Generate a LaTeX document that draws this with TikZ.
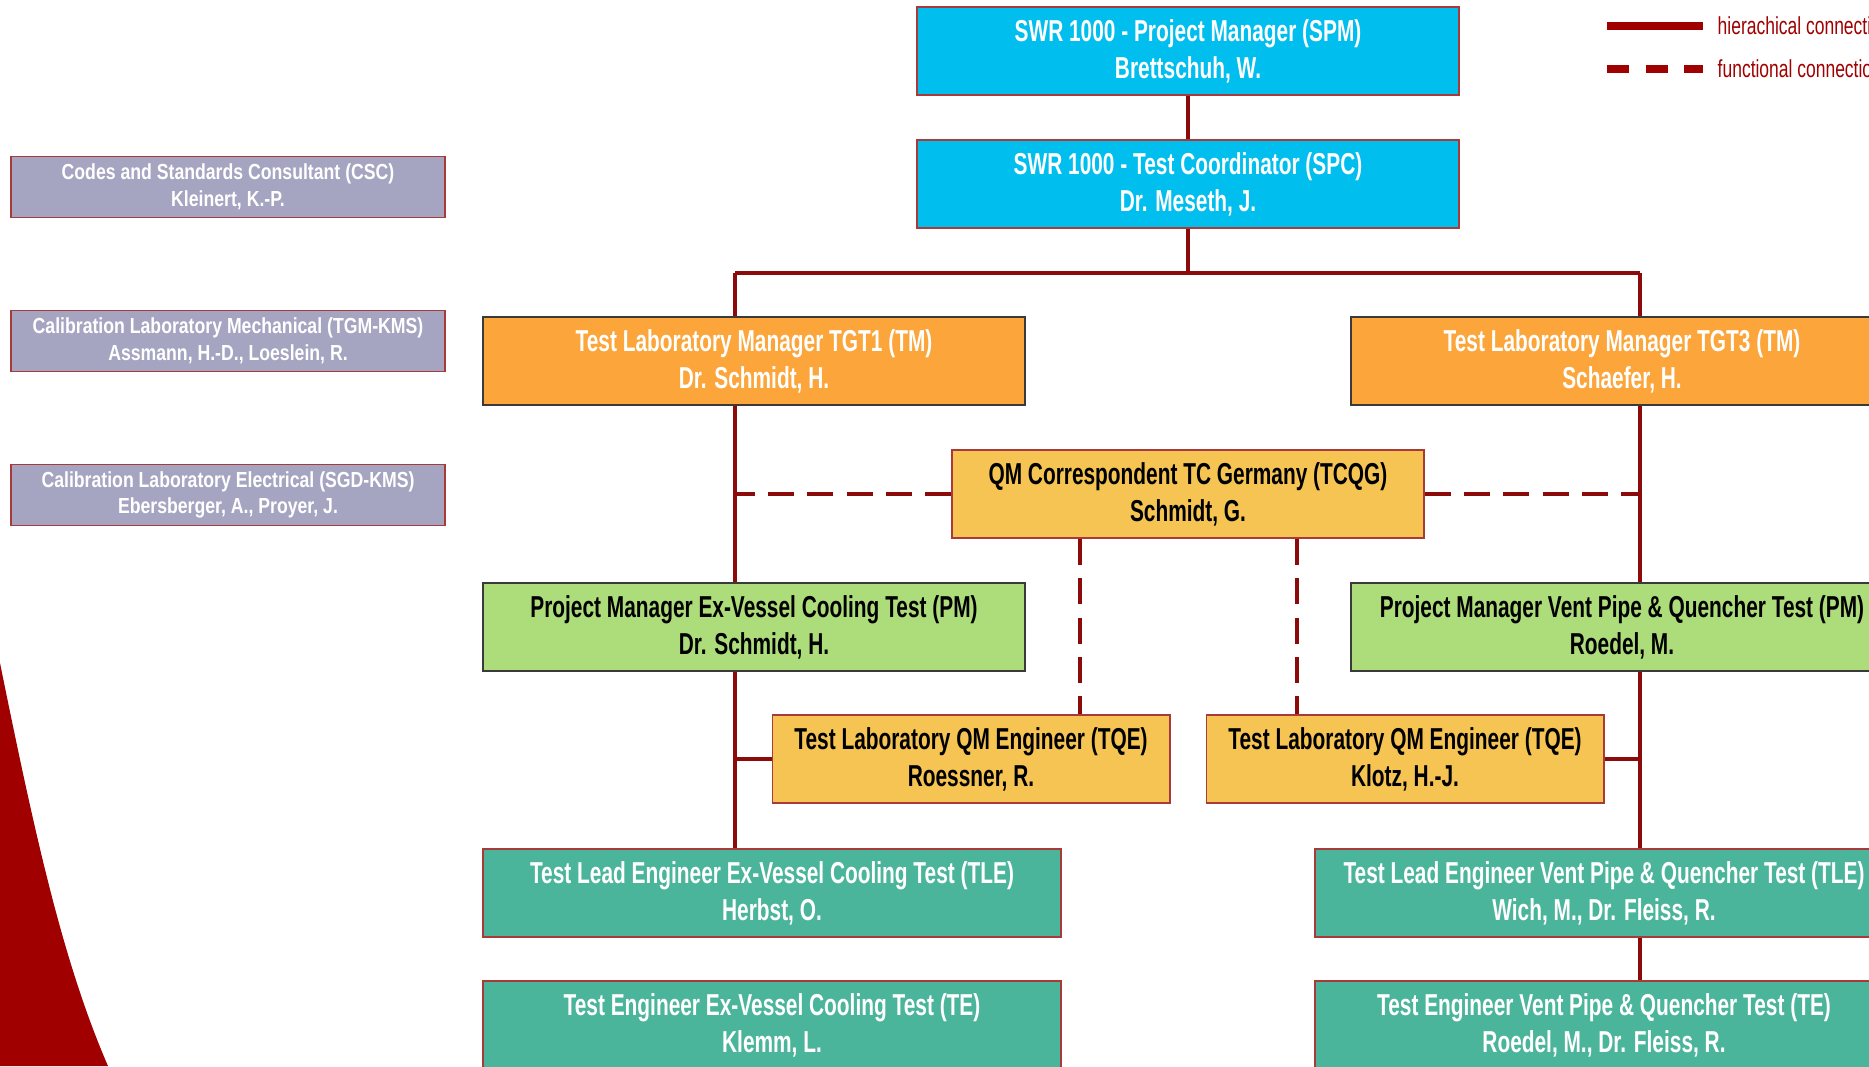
\documentclass[tikz,border=0pt]{standalone}
\usepackage{fontspec}
\setmainfont{Liberation Sans}
\newfontfamily\boxfnt[FakeStretch=0.69]{Liberation Sans}
\newfontfamily\sidefnt[FakeStretch=0.81]{Liberation Sans}
\newfontfamily\legfnt[FakeStretch=0.71]{Liberation Sans}
\usetikzlibrary{calc}
\definecolor{cyanbox}{HTML}{00BEEE}
\definecolor{orangebox}{HTML}{FBA53A}
\definecolor{yellowbox}{HTML}{F5C452}
\definecolor{greenbox}{HTML}{ADDC7A}
\definecolor{tealbox}{HTML}{4BB59B}
\definecolor{graybox}{HTML}{A5A5C2}
\definecolor{linered}{HTML}{8B0A0A}
\definecolor{legred}{HTML}{A00000}
\definecolor{borderred}{HTML}{A83A3A}
\definecolor{bordergray}{HTML}{3A3A3A}
\definecolor{swooshred}{HTML}{A00000}
\pgfdeclarelayer{bg}
\pgfdeclarelayer{paper}
\pgfsetlayers{paper,bg,main}
\begin{document}
\begin{tikzpicture}[x=0.01cm,y=-0.01cm,
  box/.style={draw=borderred, line width=0.5pt, inner sep=0pt, align=center,
    minimum height=0.88cm, text=white,
    font=\boxfnt\bfseries\fontsize{8.6}{10.5}\selectfont},
  darktext/.style={text=black},
  grayedge/.style={draw=bordergray},
  sidebox/.style={draw=borderred, line width=0.5pt, fill=graybox, inner sep=0pt,
    align=center, minimum width=4.33cm, minimum height=0.61cm, text=white,
    font=\sidefnt\bfseries\fontsize{6.2}{7.6}\selectfont},
  hier/.style={draw=linered, line width=0.9pt},
  func/.style={draw=linered, line width=1.1pt, dash pattern=on 7.4pt off 3.8pt},
  legtext/.style={text=legred, anchor=west, inner sep=0pt,
    font=\legfnt\fontsize{7}{8}\selectfont}
]
\useasboundingbox (0,0) rectangle (1869,1066);
\clip (0,0) rectangle (1869,1066);
\begin{pgfonlayer}{paper}
  \fill[white] (0,0) rectangle (1869,1066);
\end{pgfonlayer}

% decorative swoosh
\fill[swooshred] (0,663) .. controls (34,830) and (62,960) .. (108,1066) -- (0,1066) -- cycle;

% left consultant boxes
\node[sidebox] (csc) at (228,187) {Codes and Standards Consultant (CSC)\\Kleinert, K.-P.};
\node[sidebox] (tgm) at (228,341) {Calibration Laboratory Mechanical (TGM-KMS)\\Assmann, H.-D., Loeslein, R.};
\node[sidebox] (sgd) at (228,495) {Calibration Laboratory Electrical (SGD-KMS)\\Ebersberger, A., Proyer, J.};

% main boxes
\node[box, fill=cyanbox, minimum width=5.42cm] (spm) at (1188,51) {SWR 1000 - Project Manager (SPM)\\Brettschuh, W.};
\node[box, fill=cyanbox, minimum width=5.42cm] (spc) at (1188,184) {SWR 1000 - Test Coordinator (SPC)\\Dr. Meseth, J.};
\node[box, grayedge, fill=orangebox, minimum width=5.42cm] (tgt1) at (754,361) {Test Laboratory Manager TGT1 (TM)\\Dr. Schmidt, H.};
\node[box, grayedge, fill=orangebox, minimum width=5.42cm] (tgt3) at (1622,361) {Test Laboratory Manager TGT3 (TM)\\Schaefer, H.};
\node[box, darktext, fill=yellowbox, minimum width=4.71cm] (tcqg) at (1188,494) {QM Correspondent TC Germany (TCQG)\\Schmidt, G.};
\node[box, grayedge, darktext, fill=greenbox, minimum width=5.42cm] (pmL) at (754,627) {Project Manager Ex-Vessel Cooling Test (PM)\\Dr. Schmidt, H.};
\node[box, grayedge, darktext, fill=greenbox, minimum width=5.42cm] (pmR) at (1622,627) {Project Manager Vent Pipe \& Quencher Test (PM)\\Roedel, M.};
\node[box, darktext, fill=yellowbox, minimum width=3.97cm] (tqeL) at (971,759) {Test Laboratory QM Engineer (TQE)\\Roessner, R.};
\node[box, darktext, fill=yellowbox, minimum width=3.97cm] (tqeR) at (1405,759) {Test Laboratory QM Engineer (TQE)\\Klotz, H.-J.};
\node[box, fill=tealbox, minimum width=5.78cm] (tleL) at (772,893) {Test Lead Engineer Ex-Vessel Cooling Test (TLE)\\Herbst, O.};
\node[box, fill=tealbox, minimum width=5.78cm] (tleR) at (1604,893) {Test Lead Engineer Vent Pipe \& Quencher Test (TLE)\\Wich, M., Dr. Fleiss, R.};
\node[box, fill=tealbox, minimum width=5.78cm] (teL) at (772,1025) {Test Engineer Ex-Vessel Cooling Test (TE)\\Klemm, L.};
\node[box, fill=tealbox, minimum width=5.78cm] (teR) at (1604,1025) {Test Engineer Vent Pipe \& Quencher Test (TE)\\Roedel, M., Dr. Fleiss, R.};

% spine coordinates
\coordinate (bl) at (735,273);
\coordinate (br) at (1640,273);
\coordinate (qL) at (1080,0);
\coordinate (qR) at (1297,0);

\begin{pgfonlayer}{bg}
  \draw[hier] (spm.south) -- (spc.north);
  \draw[hier] (spc.south) -- (spc.south |- bl);
  \draw[hier] (bl) -- (br);
  \draw[hier] (bl) -- (bl |- tleL.north);
  \draw[hier] (br) -- (br |- teR.north);
  \draw[hier] (tqeL.west) -- (tqeL.west -| bl);
  \draw[hier] (tqeR.east) -- (tqeR.east -| br);
  \draw[func] (tcqg.west) -- (tcqg.west -| bl);
  \draw[func] (tcqg.east) -- (tcqg.east -| br);
  \draw[func] (qL |- tcqg.south) -- (qL |- tqeL.north);
  \draw[func] (qR |- tcqg.south) -- (qR |- tqeR.north);
\end{pgfonlayer}

% legend
\coordinate (la) at (1607,26);
\coordinate (lb) at (1703,26);
\coordinate (lc) at (1607,69);
\coordinate (ld) at (1703,69);
\draw[draw=legred, line width=2pt] (la) -- (lb);
\draw[draw=legred, line width=2pt, dash pattern=on 6.2pt off 4.8pt] (lc) -- (ld);
\node[legtext] (lt1) at (1717,26) {hierachical connection};
\node[legtext] (lt2) at (1717,69) {functional connection};
\end{tikzpicture}
\end{document}
